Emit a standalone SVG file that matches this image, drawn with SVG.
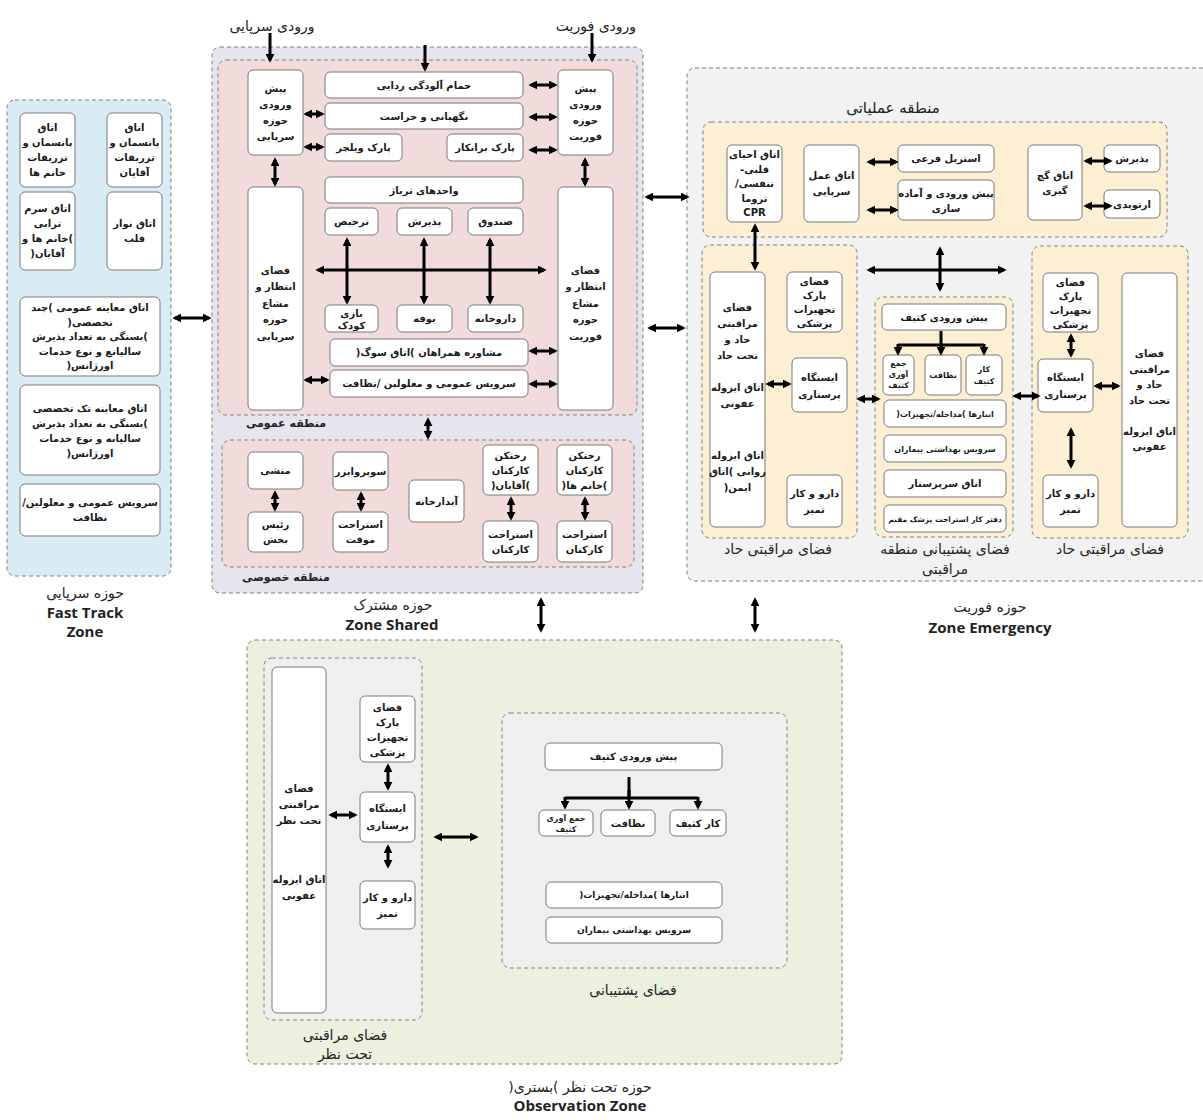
<svg xmlns="http://www.w3.org/2000/svg" width="1203" height="1120" viewBox="0 0 1203 1120">
<style>
.zone{stroke:#808080;stroke-width:1;stroke-dasharray:4 3}
.b{fill:#fff;stroke:#7a7a7a;stroke-width:1}
.t{font-family:"DejaVu Sans",sans-serif;font-size:10px;font-weight:bold;text-anchor:middle;fill:#1a1a1a;direction:rtl}
.s8{font-size:8px}
.s9{font-size:9px}
.zl{font-family:"DejaVu Sans",sans-serif;font-size:14px;text-anchor:middle;fill:#222;direction:rtl}
.zb{font-family:"DejaVu Sans",sans-serif;font-size:11px;font-weight:bold;text-anchor:middle;fill:#222;direction:rtl}
.en{font-family:"Open Sans","DejaVu Sans",sans-serif;font-size:15px;font-weight:bold;text-anchor:middle;fill:#222}
.a{stroke:#000;stroke-width:3;fill:none;marker-start:url(#ah);marker-end:url(#ah)}
.a1{stroke:#000;stroke-width:3;fill:none;marker-end:url(#ah)}
.ln{stroke:#000;stroke-width:3;fill:none}
</style>
<defs>
<marker id="ah" viewBox="0 0 10 10" refX="7" refY="5" markerWidth="9" markerHeight="9" markerUnits="userSpaceOnUse" orient="auto-start-reverse">
<path d="M0,0 L10,5 L0,10 z" fill="#000"/>
</marker>
</defs>
<rect x="0" y="0" width="1203" height="1120" fill="#fff"/>

<!-- ========== FAST TRACK ZONE ========== -->
<g id="zone-fasttrack">
<rect class="zone" x="7" y="100" width="164" height="476" rx="8" fill="#d9ebf3"/>
<text class="zl" x="85" y="598">حوزه سرپایی</text>
<text class="en" x="85" y="618">Fast Track</text>
<text class="en" x="85" y="637">Zone</text>
</g>
<g id="ft-dressing-men"><rect class="b" x="107" y="113" width="55" height="74" rx="5"/>
<text class="t"><tspan x="134.5" y="131">اتاق</tspan><tspan x="134.5" y="146">پانسمان و</tspan><tspan x="134.5" y="161">تزریقات</tspan><tspan x="134.5" y="176">آقایان</tspan></text></g>
<g id="ft-dressing-women"><rect class="b" x="20" y="113" width="55" height="74" rx="5"/>
<text class="t"><tspan x="47.5" y="131">اتاق</tspan><tspan x="47.5" y="146">پانسمان و</tspan><tspan x="47.5" y="161">تزریقات</tspan><tspan x="47.5" y="176">خانم ها</tspan></text></g>
<g id="ft-ecg"><rect class="b" x="107" y="192" width="55" height="78" rx="5"/>
<text class="t"><tspan x="134.5" y="227">اتاق نوار</tspan><tspan x="134.5" y="242">قلب</tspan></text></g>
<g id="ft-serum"><rect class="b" x="20" y="192" width="55" height="78" rx="5"/>
<text class="t"><tspan x="47.5" y="212">اتاق سرم</tspan><tspan x="47.5" y="227">ترابی</tspan><tspan x="47.5" y="242">)خانم ها و</tspan><tspan x="47.5" y="257">آقایان(</tspan></text></g>
<g id="ft-exam-general"><rect class="b" x="20" y="297" width="140" height="79" rx="5"/>
<text class="t"><tspan x="90" y="311">اتاق معاینه عمومی )چند</tspan><tspan x="90" y="325.5">تخصصی(</tspan><tspan x="90" y="340">)بستگی به تعداد پذیرش</tspan><tspan x="90" y="354.5">سالیانع و نوع خدمات</tspan><tspan x="90" y="369">اورژانس(</tspan></text></g>
<g id="ft-exam-single"><rect class="b" x="20" y="385" width="140" height="90" rx="5"/>
<text class="t"><tspan x="90" y="412">اتاق معاینه تک تخصصی</tspan><tspan x="90" y="427">)بستگی به تعداد پذیرش</tspan><tspan x="90" y="442">سالیانه و نوع خدمات</tspan><tspan x="90" y="457">اورژانس(</tspan></text></g>
<g id="ft-service"><rect class="b" x="20" y="484" width="140" height="52" rx="5"/>
<text class="t"><tspan x="90" y="506">سرویس عمومی و معلولین/</tspan><tspan x="90" y="521">نظافت</tspan></text></g>

<!-- ========== SHARED ZONE ========== -->
<g id="zone-shared">
<rect class="zone" x="212" y="47" width="431" height="546" rx="8" fill="#e6e4ec"/>
<rect class="zone" x="218" y="60" width="419" height="355" rx="8" fill="#f2dcdb"/>
<rect class="zone" x="222" y="440" width="412" height="127" rx="8" fill="#f2dcdb"/>
<text class="zb" x="286" y="427">منطقه عمومی</text>
<text class="zb" x="286" y="581">منطقه خصوصی</text>
<text class="zl" x="393" y="610">حوزه مشترک</text>
<text class="en" x="392" y="630">Zone Shared</text>
<text class="zl" x="272" y="31">ورودی سرپایی</text>
<text class="zl" x="596" y="31">ورودی فوریت</text>
</g>
<g id="sh-preentry-fasttrack"><rect class="b" x="248" y="70" width="55" height="85" rx="5"/>
<text class="t"><tspan x="275.5" y="92">پیش</tspan><tspan x="275.5" y="108">ورودی</tspan><tspan x="275.5" y="124">حوزه</tspan><tspan x="275.5" y="140">سرپایی</tspan></text></g>
<g id="sh-preentry-emergency"><rect class="b" x="558" y="70" width="55" height="85" rx="5"/>
<text class="t"><tspan x="585.5" y="92">پیش</tspan><tspan x="585.5" y="108">ورودی</tspan><tspan x="585.5" y="124">حوزه</tspan><tspan x="585.5" y="140">فوریت</tspan></text></g>
<g id="sh-decon"><rect class="b" x="325" y="72" width="198" height="26" rx="5"/>
<text class="t" x="424" y="88.5">حمام آلودگی زدایی</text></g>
<g id="sh-security"><rect class="b" x="325" y="103" width="198" height="26" rx="5"/>
<text class="t" x="424" y="119.5">نگهبانی و حراست</text></g>
<g id="sh-wheelchair"><rect class="b" x="325" y="134" width="77" height="27" rx="5"/>
<text class="t" x="363.5" y="151">پارک ویلچر</text></g>
<g id="sh-stretcher"><rect class="b" x="447" y="134" width="76" height="27" rx="5"/>
<text class="t" x="485" y="151">پارک برانکار</text></g>
<g id="sh-wait-fasttrack"><rect class="b" x="248" y="187" width="55" height="223" rx="5"/>
<text class="t"><tspan x="275.5" y="273.5">فضای</tspan><tspan x="275.5" y="290">انتظار و</tspan><tspan x="275.5" y="306.5">مشاع</tspan><tspan x="275.5" y="323">حوزه</tspan><tspan x="275.5" y="339.5">سرپایی</tspan></text></g>
<g id="sh-wait-emergency"><rect class="b" x="558" y="187" width="55" height="223" rx="5"/>
<text class="t"><tspan x="585.5" y="273.5">فضای</tspan><tspan x="585.5" y="290">انتظار و</tspan><tspan x="585.5" y="306.5">مشاع</tspan><tspan x="585.5" y="323">حوزه</tspan><tspan x="585.5" y="339.5">فوریت</tspan></text></g>
<g id="sh-triage"><rect class="b" x="325" y="177" width="198" height="26" rx="5"/>
<text class="t" x="424" y="193.5">واحدهای ترباژ</text></g>
<g id="sh-discharge"><rect class="b" x="325" y="208" width="53" height="27" rx="5"/>
<text class="t" x="351.5" y="225">ترخیص</text></g>
<g id="sh-reception"><rect class="b" x="397" y="208" width="55" height="27" rx="5"/>
<text class="t" x="424.5" y="225">پذیرش</text></g>
<g id="sh-cashier"><rect class="b" x="468" y="208" width="55" height="27" rx="5"/>
<text class="t" x="495.5" y="225">صندوق</text></g>
<g id="sh-play"><rect class="b" x="325" y="305" width="53" height="27" rx="5"/>
<text class="t"><tspan x="351.5" y="316.5">بازی</tspan><tspan x="351.5" y="328.5">کودک</tspan></text></g>
<g id="sh-buffet"><rect class="b" x="397" y="305" width="55" height="27" rx="5"/>
<text class="t" x="424.5" y="322">بوفه</text></g>
<g id="sh-pharmacy"><rect class="b" x="468" y="305" width="55" height="27" rx="5"/>
<text class="t" x="495.5" y="322">داروخانه</text></g>
<g id="sh-counsel"><rect class="b" x="330" y="339" width="198" height="27" rx="5"/>
<text class="t" x="429" y="356">مشاوره همراهان )اتاق سوگ(</text></g>
<g id="sh-service"><rect class="b" x="330" y="370" width="198" height="27" rx="5"/>
<text class="t" x="429" y="387">سرویس عمومی و معلولین /نظافت</text></g>
<g id="sh-secretary"><rect class="b" x="248" y="452" width="55" height="37" rx="5"/>
<text class="t" x="275.5" y="474">منشی</text></g>
<g id="sh-head"><rect class="b" x="248" y="512" width="55" height="40" rx="5"/>
<text class="t"><tspan x="275.5" y="528">رئیس</tspan><tspan x="275.5" y="543">بخش</tspan></text></g>
<g id="sh-supervisor"><rect class="b" x="333" y="452" width="55" height="38" rx="5"/>
<text class="t" x="360.5" y="474.5">سوپروایزر</text></g>
<g id="sh-temp-rest"><rect class="b" x="333" y="512" width="55" height="40" rx="5"/>
<text class="t"><tspan x="360.5" y="528">استراحت</tspan><tspan x="360.5" y="543">موقت</tspan></text></g>
<g id="sh-pantry"><rect class="b" x="409" y="480" width="55" height="42" rx="5"/>
<text class="t" x="436.5" y="504.5">آبدارخانه</text></g>
<g id="sh-locker-men"><rect class="b" x="483" y="445" width="55" height="50" rx="5"/>
<text class="t"><tspan x="510.5" y="458.5">رختکن</tspan><tspan x="510.5" y="473.5">کارکنان</tspan><tspan x="510.5" y="488.5">)آقایان(</tspan></text></g>
<g id="sh-rest-men"><rect class="b" x="483" y="521" width="55" height="41" rx="5"/>
<text class="t"><tspan x="510.5" y="537.5">استراحت</tspan><tspan x="510.5" y="552.5">کارکنان</tspan></text></g>
<g id="sh-locker-women"><rect class="b" x="557" y="445" width="55" height="50" rx="5"/>
<text class="t"><tspan x="584.5" y="458.5">رختکن</tspan><tspan x="584.5" y="473.5">کارکنان</tspan><tspan x="584.5" y="488.5">)خانم ها(</tspan></text></g>
<g id="sh-rest-women"><rect class="b" x="557" y="521" width="55" height="41" rx="5"/>
<text class="t"><tspan x="584.5" y="537.5">استراحت</tspan><tspan x="584.5" y="552.5">کارکنان</tspan></text></g>

<!-- ========== EMERGENCY ZONE ========== -->
<g id="zone-emergency">
<rect class="zone" x="687" y="68" width="530" height="513" rx="8" fill="#f2f2f2"/>
<text class="zl" x="990" y="612">حوزه فوریت</text>
<text class="en" x="990" y="633">Zone Emergency</text>
<text class="zl" x="893" y="113" style="font-size:15px">منطقه عملیاتی</text>
<rect class="zone" x="703" y="122" width="464" height="115" rx="8" fill="#fcefd3"/>
<rect class="zone" x="702" y="245" width="155" height="293" rx="8" fill="#fcefd3"/>
<text class="zl" x="778" y="554">فضای مراقبتی حاد</text>
<rect class="zone" x="875" y="297" width="138" height="240" rx="8" fill="#fcefd3"/>
<text class="zl"><tspan x="945" y="554">فضای پشتیبانی منطقه</tspan><tspan x="945" y="574">مراقبتی</tspan></text>
<rect class="zone" x="1032" y="246" width="156" height="292" rx="8" fill="#fcefd3"/>
<text class="zl" x="1110" y="554">فضای مراقبتی حاد</text>
</g>
<g id="em-cpr"><rect class="b" x="727" y="145" width="55" height="77" rx="5"/>
<text class="t"><tspan x="754.5" y="158">اتاق احیای</tspan><tspan x="754.5" y="172.5">قلبی-</tspan><tspan x="754.5" y="187">تنفسی/</tspan><tspan x="754.5" y="201.5">تروما</tspan><tspan x="754.5" y="216">CPR</tspan></text></g>
<g id="em-or"><rect class="b" x="804" y="145" width="55" height="77" rx="5"/>
<text class="t"><tspan x="831.5" y="179">اتاق عمل</tspan><tspan x="831.5" y="195">سرپایی</tspan></text></g>
<g id="em-sterile"><rect class="b" x="898" y="145" width="96" height="27" rx="5"/>
<text class="t" x="946" y="162">استریل فرعی</text></g>
<g id="em-prep"><rect class="b" x="898" y="180" width="96" height="40" rx="5"/>
<text class="t"><tspan x="946" y="196.5">پیش ورودی و آماده</tspan><tspan x="946" y="211.5">سازی</tspan></text></g>
<g id="em-cast"><rect class="b" x="1028" y="145" width="54" height="75" rx="5"/>
<text class="t"><tspan x="1055" y="179">اتاق گچ</tspan><tspan x="1055" y="194">گیری</tspan></text></g>
<g id="em-reception"><rect class="b" x="1104" y="145" width="56" height="27" rx="5"/>
<text class="t" x="1132" y="162">پذیرش</text></g>
<g id="em-ortho"><rect class="b" x="1104" y="190" width="56" height="28" rx="5"/>
<text class="t" x="1132" y="207.5">ارتوپدی</text></g>
<g id="em-acuteL-main"><rect class="b" x="710" y="272" width="55" height="255" rx="5"/>
<text class="t"><tspan x="737.5" y="311">فضای</tspan><tspan x="737.5" y="327">مراقبتی</tspan><tspan x="737.5" y="343">حاد و</tspan><tspan x="737.5" y="359">تحت حاد</tspan><tspan x="737.5" y="391">اتاق ایزوله</tspan><tspan x="737.5" y="407">عفونی</tspan><tspan x="737.5" y="459">اتاق ایزوله</tspan><tspan x="737.5" y="475">روانی )اتاق</tspan><tspan x="737.5" y="491">ایمن(</tspan></text></g>
<g id="em-acuteL-equip"><rect class="b" x="787" y="272" width="55" height="60" rx="5"/>
<text class="t"><tspan x="814.5" y="285">فضای</tspan><tspan x="814.5" y="299">پارک</tspan><tspan x="814.5" y="313">تجهیزات</tspan><tspan x="814.5" y="327">پزشکی</tspan></text></g>
<g id="em-acuteL-nurse"><rect class="b" x="792" y="358" width="55" height="54" rx="5"/>
<text class="t"><tspan x="819.5" y="381">ایستگاه</tspan><tspan x="819.5" y="398">پرستاری</tspan></text></g>
<g id="em-acuteL-clean"><rect class="b" x="787" y="475" width="55" height="52" rx="5"/>
<text class="t"><tspan x="814.5" y="497">دارو و کار</tspan><tspan x="814.5" y="513">تمیز</tspan></text></g>
<g id="em-dirty-entry"><rect class="b" x="882" y="304" width="124" height="26" rx="5"/>
<text class="t" x="944" y="320.5">پیش ورودی کثیف</text></g>
<g id="em-dirty-collect"><rect class="b" x="883" y="355" width="31" height="40" rx="5"/>
<text class="t s8"><tspan x="898.5" y="366">جمع</tspan><tspan x="898.5" y="377">آوری</tspan><tspan x="898.5" y="388">کثیف</tspan></text></g>
<g id="em-cleaning"><rect class="b" x="925" y="355" width="36" height="40" rx="5"/>
<text class="t s8" x="943" y="378">نظافت</text></g>
<g id="em-dirty-work"><rect class="b" x="966" y="355" width="36" height="40" rx="5"/>
<text class="t s8"><tspan x="984" y="372">کار</tspan><tspan x="984" y="384">کثیف</tspan></text></g>
<g id="em-stores"><rect class="b" x="884" y="400" width="122" height="27" rx="5"/>
<text class="t s8" x="945" y="416.5">انبارها )مداخله/تجهیزات(</text></g>
<g id="em-wc"><rect class="b" x="884" y="435" width="122" height="27" rx="5"/>
<text class="t s8" x="945" y="451.5">سرویس بهداشتی بیماران</text></g>
<g id="em-headnurse"><rect class="b" x="884" y="470" width="122" height="27" rx="5"/>
<text class="t" x="945" y="487">اتاق سرپرستار</text></g>
<g id="em-resident"><rect class="b" x="884" y="505" width="122" height="27" rx="5"/>
<text class="t" x="945" y="521.5" style="font-size:7.5px">دفتر کار استراحت پزشک مقیم</text></g>
<g id="em-acuteR-equip"><rect class="b" x="1043" y="273" width="55" height="59" rx="5"/>
<text class="t"><tspan x="1070.5" y="286">فضای</tspan><tspan x="1070.5" y="300">پارک</tspan><tspan x="1070.5" y="314">تجهیزات</tspan><tspan x="1070.5" y="328">پزشکی</tspan></text></g>
<g id="em-acuteR-nurse"><rect class="b" x="1038" y="359" width="55" height="53" rx="5"/>
<text class="t"><tspan x="1065.5" y="381">ایستگاه</tspan><tspan x="1065.5" y="398">پرستاری</tspan></text></g>
<g id="em-acuteR-main"><rect class="b" x="1122" y="273" width="55" height="254" rx="5"/>
<text class="t"><tspan x="1149.5" y="357">فضای</tspan><tspan x="1149.5" y="372.5">مراقبتی</tspan><tspan x="1149.5" y="388">حاد و</tspan><tspan x="1149.5" y="403.5">تحت حاد</tspan><tspan x="1149.5" y="434.5">اتاق ایزوله</tspan><tspan x="1149.5" y="450">عفونی</tspan></text></g>
<g id="em-acuteR-clean"><rect class="b" x="1043" y="475" width="55" height="52" rx="5"/>
<text class="t"><tspan x="1070.5" y="497">دارو و کار</tspan><tspan x="1070.5" y="513">تمیز</tspan></text></g>

<!-- ========== OBSERVATION ZONE ========== -->
<g id="zone-observation">
<rect class="zone" x="247" y="640" width="595" height="424" rx="8" fill="#ebf1de"/>
<text class="zl" x="580" y="1092">حوزه تحت نظر )بستری(</text>
<text class="en" x="580" y="1111">Observation Zone</text>
<rect class="zone" x="264" y="658" width="158" height="362" rx="8" fill="#efefef"/>
<text class="zl"><tspan x="345" y="1040">فضای مراقبتی</tspan><tspan x="345" y="1059">تحت نظر</tspan></text>
<rect class="zone" x="502" y="713" width="285" height="255" rx="8" fill="#efefef"/>
<text class="zl" x="633" y="995">فضای پشتیبانی</text>
</g>
<g id="ob-main"><rect class="b" x="272" y="667" width="54" height="346" rx="5"/>
<text class="t"><tspan x="299" y="792">فضای</tspan><tspan x="299" y="808">مراقبتی</tspan><tspan x="299" y="824">تحت نظر</tspan><tspan x="299" y="883">اتاق ایزوله</tspan><tspan x="299" y="899">عفونی</tspan></text></g>
<g id="ob-equip"><rect class="b" x="360" y="696" width="55" height="66" rx="5"/>
<text class="t"><tspan x="387.5" y="711">فضای</tspan><tspan x="387.5" y="726">پارک</tspan><tspan x="387.5" y="741">تجهیزات</tspan><tspan x="387.5" y="756">پزشکی</tspan></text></g>
<g id="ob-nurse"><rect class="b" x="360" y="792" width="55" height="50" rx="5"/>
<text class="t"><tspan x="387.5" y="812">ایستگاه</tspan><tspan x="387.5" y="829">پرستاری</tspan></text></g>
<g id="ob-clean"><rect class="b" x="360" y="881" width="55" height="48" rx="5"/>
<text class="t"><tspan x="387.5" y="901">دارو و کار</tspan><tspan x="387.5" y="917">تمیز</tspan></text></g>
<g id="ob-dirty-entry"><rect class="b" x="545" y="743" width="177" height="27" rx="5"/>
<text class="t" x="633.5" y="760">پیش ورودی کثیف</text></g>
<g id="ob-dirty-collect"><rect class="b" x="539" y="810" width="54" height="26" rx="5"/>
<text class="t s8"><tspan x="566" y="821">جمع آوری</tspan><tspan x="566" y="832">کثیف</tspan></text></g>
<g id="ob-cleaning"><rect class="b" x="601" y="810" width="54" height="26" rx="5"/>
<text class="t" x="628" y="826.5">نظافت</text></g>
<g id="ob-dirty-work"><rect class="b" x="670" y="810" width="56" height="26" rx="5"/>
<text class="t" x="698" y="826.5">کار کثیف</text></g>
<g id="ob-stores"><rect class="b" x="546" y="882" width="176" height="26" rx="5"/>
<text class="t s9" x="634" y="898">انبارها )مداخله/تجهیزات(</text></g>
<g id="ob-wc"><rect class="b" x="546" y="917" width="176" height="26" rx="5"/>
<text class="t s9" x="634" y="933">سرویس بهداشتی بیماران</text></g>

<!-- ========== CONNECTORS ========== -->
<g id="connectors">
<path class="a1" d="M270,33 V60"/>
<path class="a1" d="M425,45 V69"/>
<path class="a1" d="M592,33 V60"/>
<path class="a" d="M306,114 H322"/>
<path class="a" d="M306,147 H322"/>
<path class="a" d="M531,85 H555"/>
<path class="a" d="M531,117 H555"/>
<path class="a" d="M531,150 H555"/>
<path class="a" d="M275,160 V184"/>
<path class="a" d="M585,160 V184"/>
<path class="a" d="M318,270 H544"/>
<path class="a" d="M347,240 V302"/>
<path class="a" d="M424,240 V302"/>
<path class="a" d="M490,240 V302"/>
<path class="a" d="M531,351 H555"/>
<path class="a" d="M531,384 H555"/>
<path class="a" d="M306,380 H327"/>
<path class="a" d="M428,420 V437"/>
<path class="a" d="M275,493 V509"/>
<path class="a" d="M361,494 V509"/>
<path class="a" d="M511,499 V518"/>
<path class="a" d="M585,499 V518"/>
<path class="a" d="M175,318 H209"/>
<path class="a" d="M647,197 H687"/>
<path class="a" d="M650,328 H683"/>
<path class="a" d="M541,600 V630"/>
<path class="a" d="M755,600 V630"/>
<path class="a" d="M869,162 H896"/>
<path class="a" d="M869,210 H896"/>
<path class="a" d="M1086,161 H1110"/>
<path class="a" d="M1086,206 H1110"/>
<path class="a" d="M755,226 V268"/>
<path class="a" d="M869,270 H1004"/>
<path class="a" d="M940,249 V289"/>
<path class="a" d="M768,384 H789"/>
<path class="a" d="M859,399 H878"/>
<path class="a" d="M1015,396 H1038"/>
<path class="ln" d="M941,331 V345 M898,345 H984"/>
<path class="a1" d="M898,344 V353"/>
<path class="a1" d="M941,344 V353"/>
<path class="a1" d="M984,344 V353"/>
<path class="a" d="M1071,336 V355"/>
<path class="a" d="M1096,386 H1118"/>
<path class="a" d="M1071,430 V466"/>
<path class="a" d="M388,766 V788"/>
<path class="a" d="M331,815 H355"/>
<path class="a" d="M388,847 V866"/>
<path class="a" d="M436,837 H476"/>
<path class="ln" d="M629,777 V798 M565,798 H698"/>
<path class="a1" d="M629,790 V807"/>
<path class="a1" d="M565,797 V807"/>
<path class="a1" d="M698,797 V807"/>
</g>
</svg>
